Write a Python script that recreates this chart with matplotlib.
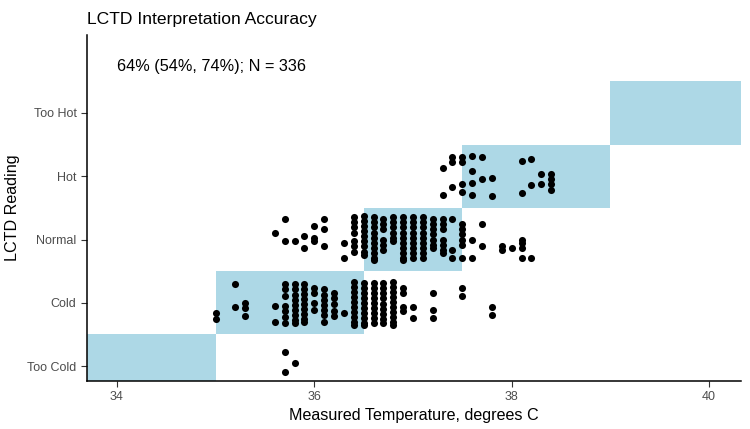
import matplotlib
matplotlib.use('Agg')
import matplotlib.pyplot as plt
import matplotlib.patches as mpatches

FONT = 'Liberation Sans'
plt.rcParams['font.family'] = [FONT, 'DejaVu Sans']

categories = ['Too Cold', 'Cold', 'Normal', 'Hot', 'Too Hot']
# temperature band per reading (lower, upper); None = open end
bands = [(None, 35.0), (35.0, 36.5), (36.5, 37.5), (37.5, 39.0), (39.0, None)]
x_ticks = [34, 36, 38, 40]
annotation = "64% (54%, 74%); N = 336"

# jittered points: measured temp -> vertical offsets around the reading row
too_cold_pts = {35.7: [0.22, -0.10], 35.8: [0.05]}
cold_pts = {
    35.0: [-0.16, -0.25],
    35.2: [0.29, -0.06],
    35.3: [0.0, -0.08, -0.21],
    35.6: [-0.05, -0.30],
    35.7: [0.29, 0.21, 0.10, -0.05, -0.13, -0.22, -0.32],
    35.8: [0.29, 0.21, 0.13, 0.05, -0.03, -0.11, -0.19, -0.27, -0.32],
    35.9: [0.29, 0.22, 0.14, 0.06, -0.02, -0.10, -0.18, -0.26, -0.30],
    36.0: [0.24, 0.16, 0.0, -0.11],
    36.1: [0.21, 0.13, 0.05, -0.03, -0.11, -0.19, -0.30],
    36.2: [0.16, 0.08, -0.02, -0.13, -0.21],
    36.3: [-0.16],
    36.4: [0.33, 0.25, 0.17, 0.09, 0.01, -0.07, -0.15, -0.23, -0.31, -0.35],
    36.5: [0.32, 0.24, 0.16, 0.08, 0.0, -0.08, -0.16, -0.24, -0.32, -0.35],
    36.6: [0.32, 0.24, 0.16, 0.08, 0.0, -0.08, -0.16, -0.24, -0.32],
    36.7: [0.32, 0.24, 0.16, 0.08, -0.02, -0.10, -0.18, -0.26, -0.32],
    36.8: [0.33, 0.25, 0.17, 0.09, 0.01, -0.07, -0.15, -0.23, -0.31, -0.35],
    36.9: [0.24, 0.16, -0.06, -0.13],
    37.0: [-0.06, -0.24],
    37.2: [0.16, -0.11, -0.24],
    37.5: [0.24, 0.10],
    37.8: [-0.06, -0.19],
}
normal_pts = {
    35.6: [0.10],
    35.7: [0.32, -0.03],
    35.8: [-0.02],
    35.9: [0.06, -0.14],
    36.0: [0.21, 0.03, -0.02],
    36.1: [0.32, 0.16, -0.11],
    36.3: [-0.06, -0.29],
    36.4: [0.35, 0.27, 0.19, 0.11, -0.03, -0.11, -0.19],
    36.5: [0.37, 0.29, 0.21, 0.13, 0.05, -0.03, -0.11, -0.19, -0.24],
    36.6: [0.35, 0.27, 0.19, 0.11, 0.03, -0.05, -0.13, -0.21, -0.29, -0.32],
    36.7: [0.32, 0.24, 0.16, 0.0, -0.08, -0.16],
    36.8: [0.35, 0.27, 0.19, 0.11, 0.03, -0.03],
    36.9: [0.35, 0.27, 0.19, 0.11, 0.03, -0.05, -0.13, -0.21, -0.29, -0.32],
    37.0: [0.35, 0.27, 0.19, 0.11, 0.03, -0.05, -0.13, -0.21, -0.29],
    37.1: [0.35, 0.27, 0.19, 0.11, 0.03, -0.05, -0.13, -0.21, -0.29],
    37.2: [0.32, 0.24, 0.16, 0.08, 0.0, -0.08, -0.13],
    37.3: [0.32, 0.24, 0.16, 0.0, -0.08, -0.16, -0.21],
    37.4: [0.32, -0.16, -0.29],
    37.5: [0.24, 0.16, 0.08, 0.0, -0.08, -0.29],
    37.6: [0.0, -0.29],
    37.7: [0.25, -0.11],
    37.9: [-0.11, -0.16],
    38.0: [-0.13],
    38.1: [0.0, -0.06, -0.13, -0.29],
    38.2: [-0.29],
}
hot_pts = {
    37.3: [0.13, -0.30],
    37.4: [0.30, 0.22, -0.17],
    37.5: [0.30, 0.22, -0.13, -0.25],
    37.6: [0.32, 0.08, -0.11, -0.29],
    37.7: [0.30, -0.05],
    37.8: [-0.02, -0.32],
    38.1: [0.24, -0.27],
    38.2: [0.27, -0.14],
    38.3: [0.03, -0.13],
    38.4: [0.03, -0.05, -0.13, -0.21],
}
too_hot_pts = {}
points_by_row = [too_cold_pts, cold_pts, normal_pts, hot_pts, too_hot_pts]

W, H = 750, 429
fig = plt.figure(figsize=(W / 100, H / 100), dpi=100)
ax = fig.add_axes([87 / W, 48 / H, 654 / W, 346 / H])
xlim = (33.696, 40.324)
ax.set_xlim(*xlim)
ax.set_ylim(0.763, 6.233)

# reading bands
for i, (lo, hi) in enumerate(bands):
    lo = xlim[0] - 1 if lo is None else lo
    hi = xlim[1] + 1 if hi is None else hi
    ax.add_patch(mpatches.Rectangle((lo, i + 0.5), hi - lo, 1.0,
                                    facecolor='#ADD8E6', edgecolor='none', zorder=1))

xs, ys = [], []
for i, row in enumerate(points_by_row):
    for temp, offs in row.items():
        for d in offs:
            xs.append(temp)
            ys.append(i + 1 + d)
ax.scatter(xs, ys, s=26, color='black', linewidths=0, zorder=3)

ax.text(34.0, 5.73, annotation, ha='left', va='center', fontsize=11.7, color='black')

ax.set_yticks(range(1, len(categories) + 1))
ax.set_yticklabels(categories)
ax.set_xticks(x_ticks)
ax.tick_params(axis='both', labelsize=9, labelcolor='#4D4D4D', color='#333333',
               length=4, width=0.8)
for side in ['top', 'right']:
    ax.spines[side].set_visible(False)
for side in ['left', 'bottom']:
    ax.spines[side].set_linewidth(1.1)
    ax.spines[side].set_color('black')

ax.set_xlabel("Measured Temperature, degrees C", fontsize=11.6, labelpad=3)
ax.set_ylabel("LCTD Reading", fontsize=11.6, labelpad=5)
ax.set_title("LCTD Interpretation Accuracy", loc='left', fontsize=12.6, pad=8)

fig.savefig('out.png', dpi=100)
